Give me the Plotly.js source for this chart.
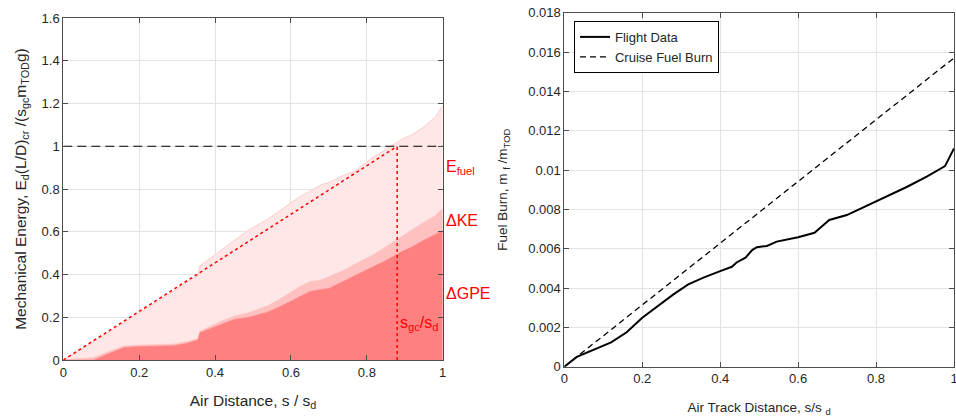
<!DOCTYPE html>
<html>
<head>
<meta charset="utf-8">
<script src="https://cdn.plot.ly/plotly-3.0.1.min.js"></script>
<style>
  html, body { margin: 0; padding: 0; background: #fff; }
  #chart { width: 956px; height: 419px; }
</style>
</head>
<body>
<div id="chart"></div>
<script>
// ---- Left panel: stacked mechanical energy vs air distance ----
const airDist = [0, 0.04, 0.08, 0.12, 0.16, 0.2, 0.25, 0.29, 0.33, 0.355, 0.36, 0.39, 0.42, 0.45, 0.49, 0.54, 0.58, 0.62, 0.65, 0.68, 0.70, 0.74, 0.77, 0.81, 0.85, 0.89, 0.92, 0.95, 0.98, 1.0];
// cumulative tops of each energy band
const gpeTop  = [0, 0, 0, 0.03, 0.058, 0.063, 0.066, 0.067, 0.08, 0.095, 0.128, 0.148, 0.17, 0.19, 0.2, 0.225, 0.257, 0.295, 0.32, 0.33, 0.335, 0.37, 0.395, 0.43, 0.465, 0.505, 0.53, 0.56, 0.585, 0.605];
const keTop   = [0, 0.005, 0.012, 0.04, 0.065, 0.07, 0.073, 0.075, 0.088, 0.1, 0.135, 0.16, 0.185, 0.205, 0.222, 0.255, 0.295, 0.34, 0.367, 0.375, 0.39, 0.42, 0.45, 0.485, 0.53, 0.578, 0.61, 0.645, 0.675, 0.71];
const fuelTop = [0, 0.04, 0.085, 0.13, 0.175, 0.22, 0.275, 0.32, 0.37, 0.395, 0.44, 0.48, 0.52, 0.56, 0.61, 0.66, 0.71, 0.76, 0.79, 0.82, 0.83, 0.865, 0.885, 0.94, 0.985, 1.03, 1.055, 1.09, 1.135, 1.19];
const sgcRatio = 0.88;          // s_gc / s_d
const energyRef = 1;            // normalised cruise energy level

// ---- Right panel: fuel burn vs air track distance ----
const trackDist = [0, 0.032, 0.12, 0.16, 0.2, 0.237, 0.28, 0.318, 0.357, 0.4, 0.43, 0.442, 0.465, 0.482, 0.494, 0.52, 0.545, 0.6, 0.642, 0.665, 0.68, 0.725, 0.8, 0.88, 0.93, 0.977, 1.0];
const fuelBurn  = [0, 0.0005, 0.00124, 0.00175, 0.00249, 0.00305, 0.00368, 0.00419, 0.00453, 0.00486, 0.00508, 0.0053, 0.00554, 0.00593, 0.00608, 0.00614, 0.00636, 0.00658, 0.00681, 0.0072, 0.00746, 0.00771, 0.00839, 0.00915, 0.00966, 0.0102, 0.0111];
const cruiseDist = [0, 1];
const cruiseBurn = [0, 0.0157];

const leftYTicks  = [0, 0.2, 0.4, 0.6, 0.8, 1, 1.2, 1.4, 1.6];
const leftYText   = ['0', '0.2', '0.4', '0.6', '0.8', '1', '1.2', '1.4', '1.6'];
const xTicks      = [0, 0.2, 0.4, 0.6, 0.8, 1];
const xText       = ['0', '0.2', '0.4', '0.6', '0.8', '1'];
const rightYTicks = [0, 0.002, 0.004, 0.006, 0.008, 0.01, 0.012, 0.014, 0.016, 0.018];
const rightYText  = ['0', '0.002', '0.004', '0.006', '0.008', '0.01', '0.012', '0.014', '0.016', '0.018'];

const FONT = 'Liberation Sans, Arial, sans-serif';
const TXT = '#262626';
const RED = '#ff0000';

const traces = [
  // energy bands, drawn back to front
  { x: airDist, y: fuelTop, type: 'scatter', mode: 'lines', fill: 'tozeroy',
    fillcolor: '#ffe7e7', line: { color: '#ffcaca', width: 1 }, showlegend: false, hoverinfo: 'skip',
    xaxis: 'x', yaxis: 'y' },
  { x: airDist, y: keTop, type: 'scatter', mode: 'lines', fill: 'tozeroy',
    fillcolor: '#ffc0c0', line: { color: '#ffc0c0', width: 0.5 }, showlegend: false, hoverinfo: 'skip',
    xaxis: 'x', yaxis: 'y' },
  { x: airDist, y: gpeTop, type: 'scatter', mode: 'lines', fill: 'tozeroy',
    fillcolor: '#ff8080', line: { color: '#ff8080', width: 0.5 }, showlegend: false, hoverinfo: 'skip',
    xaxis: 'x', yaxis: 'y' },
  // cruise energy reference
  { x: [0, 1], y: [energyRef, energyRef], type: 'scatter', mode: 'lines',
    line: { color: '#000', width: 1.2, dash: '9px,5px' }, showlegend: false, xaxis: 'x', yaxis: 'y' },
  // ideal cruise ramp and the s_gc marker
  { x: [0, sgcRatio], y: [0, energyRef], type: 'scatter', mode: 'lines',
    line: { color: RED, width: 1.5, dash: 'dot' }, showlegend: false, xaxis: 'x', yaxis: 'y' },
  { x: [sgcRatio, sgcRatio], y: [0, energyRef], type: 'scatter', mode: 'lines',
    line: { color: RED, width: 1.5, dash: 'dot' }, showlegend: false, xaxis: 'x', yaxis: 'y' },

  // fuel burn
  { x: trackDist, y: fuelBurn, type: 'scatter', mode: 'lines', name: 'Flight Data',
    line: { color: '#000', width: 2 }, xaxis: 'x2', yaxis: 'y2' },
  { x: cruiseDist, y: cruiseBurn, type: 'scatter', mode: 'lines', name: 'Cruise Fuel Burn',
    line: { color: '#000', width: 1.3, dash: '6px,4px' }, xaxis: 'x2', yaxis: 'y2' }
];

const axisBase = {
  showline: true, linecolor: '#4d4d4d', linewidth: 1, mirror: 'ticks',
  ticks: 'inside', ticklen: 5, tickcolor: '#4d4d4d',
  showgrid: true, gridcolor: '#e3e3e3', gridwidth: 1, zeroline: false,
  ticklabeloverflow: 'allow',
  tickfont: { family: FONT, size: 13, color: TXT }, automargin: false, fixedrange: true
};

const layout = {
  width: 956, height: 419,
  margin: { l: 0, r: 0, t: 0, b: 0 },
  paper_bgcolor: '#fff', plot_bgcolor: '#fff',
  font: { family: FONT, color: TXT },
  xaxis: Object.assign({}, axisBase, {
    domain: [0.0662, 0.4631], range: [0, 1], tickvals: xTicks, ticktext: xText,
    title: { text: 'Air Distance, s / s<sub>d</sub>', font: { family: FONT, size: 15.5, color: TXT }, standoff: 16 }
  }),
  yaxis: Object.assign({}, axisBase, {
    domain: [0.1408, 0.957], range: [0, 1.6], tickvals: leftYTicks, ticktext: leftYText,
    title: { text: 'Mechanical Energy, E<sub>d</sub>(L/D)<sub>cr</sub> /(s<sub>gc</sub>m<sub>TOD</sub>g)', font: { family: FONT, size: 15.5, color: TXT }, standoff: 11 }
  }),
  xaxis2: Object.assign({}, axisBase, {
    domain: [0.5903, 0.9979], range: [0, 1], tickvals: xTicks, ticktext: xText, anchor: 'y2',
    title: { text: 'Air Track Distance, s/s <sub>d</sub>', font: { family: FONT, size: 13.5, color: TXT }, standoff: 17 }
  }),
  yaxis2: Object.assign({}, axisBase, {
    domain: [0.1248, 0.9697], range: [0, 0.018], tickvals: rightYTicks, ticktext: rightYText, anchor: 'x2',
    title: { text: 'Fuel Burn, m <sub>f</sub> /m<sub>TOD</sub>', font: { family: FONT, size: 13.5, color: TXT }, standoff: 17 }
  }),
  showlegend: true,
  legend: {
    x: 0.6004, y: 0.95, xanchor: 'left', yanchor: 'top',
    bgcolor: '#fff', bordercolor: '#000', borderwidth: 1,
    font: { family: FONT, size: 13, color: TXT },
    tracegroupgap: 0, itemwidth: 30
  },
  annotations: [
    { xref: 'x', yref: 'y', x: 1, y: 0.9, xanchor: 'left', yanchor: 'middle', xshift: 1,
      text: 'E<sub>fuel</sub>', showarrow: false, font: { family: FONT, size: 16, color: RED } },
    { xref: 'x', yref: 'y', x: 1, y: 0.655, xanchor: 'left', yanchor: 'middle', xshift: 1,
      text: '\u0394KE', showarrow: false, font: { family: FONT, size: 16, color: RED } },
    { xref: 'x', yref: 'y', x: 1, y: 0.31, xanchor: 'left', yanchor: 'middle', xshift: 1,
      text: '\u0394GPE', showarrow: false, font: { family: FONT, size: 16, color: RED } },
    { xref: 'x', yref: 'y', x: sgcRatio, y: 0.17, xanchor: 'left', yanchor: 'middle', xshift: 1,
      text: 's<sub>gc</sub>/s<sub>d</sub>', showarrow: false, font: { family: FONT, size: 16, color: RED } }
  ]
};

Plotly.newPlot('chart', traces, layout, { displayModeBar: false, staticPlot: true });
</script>
</body>
</html>
